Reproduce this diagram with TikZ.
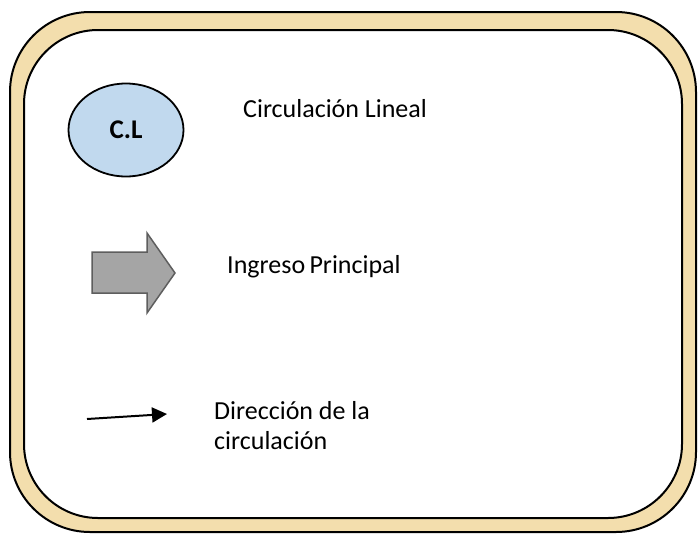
\documentclass[tikz,border=0pt]{standalone}
\usepackage{fontspec}
\setmainfont{Carlito}
\usepackage{xcolor}
\usetikzlibrary{positioning,arrows.meta,shapes.geometric}
\definecolor{frametan}{HTML}{F3DEAD}
\definecolor{clblue}{HTML}{C1D9EE}
\definecolor{ingfill}{HTML}{A5A5A5}
\definecolor{ingdraw}{HTML}{5E5E5E}

\begin{document}
\begin{tikzpicture}[
  x=1pt, y=-1pt, font=\fontsize{26}{30}\selectfont,
  frame/.style={draw=black, line width=2pt, rounded corners=80pt},
  lbl/.style={anchor=base west, inner sep=0pt, align=left},
  cl/.style={ellipse, draw=black, line width=1.8pt, fill=clblue, minimum width=115pt, minimum height=93pt,
    font=\fontsize{27}{30}\selectfont\bfseries},
  ing/.style={draw=ingdraw, line width=1.5pt, fill=ingfill, line join=miter},
  arr/.style={-{Triangle[length=15pt, width=15pt]}, line width=2pt, black}]
  \useasboundingbox (0,0) rectangle (698,533);
  % frame
  \path[frame, fill=frametan] (10,12) rectangle (696,532);
  \path[frame, fill=white, rounded corners=74pt] (24,30) rectangle (682,518);
  % legend entries
  \node[cl] (clnode) at (126,130) {C.L};
  \node[lbl] (cltext) at (243,117) {Circulación Lineal};
  \draw[ing] (92,252) -- (147,252) -- (147,233) -- (175,273) -- (147,313) -- (147,293) -- (92,293) -- cycle;
  \node[lbl] (ingtext) at (227,273) {Ingreso\,Principal};
  \coordinate (dirA) at (87,419);
  \coordinate (dirB) at (167,414);
  \draw[arr] (dirA) -- (dirB);
  % base of a two-line node is its last line
  \node[lbl] (dirtext) at (214,449) {Dirección de la\\circulación};
\end{tikzpicture}
\end{document}
